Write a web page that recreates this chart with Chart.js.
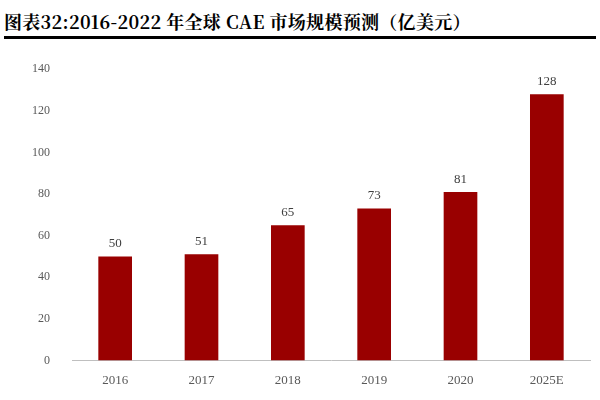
<!DOCTYPE html>
<html><head><meta charset="utf-8">
<script src="https://cdn.jsdelivr.net/npm/chart.js@4"></script>
<style>
body{margin:0;background:#fff;}
#t{position:absolute;left:4px;top:6px;width:592px;height:30px;border-bottom:3px solid #000;font-family:"Noto Serif CJK SC","Noto Sans CJK SC";font-weight:bold;font-size:18px;line-height:30px;color:#000;letter-spacing:0.3px}
#w{position:absolute;left:0;top:48px;width:600px;height:352px;}
</style></head><body>
<div id="t">图表32:2016-2022 年全球 CAE 市场规模预测（亿美元）</div>
<div id="w"><canvas id="c"></canvas></div>
<script>
const categories=["2016","2017","2018","2019","2020","2025E"];
const values=[50,51,65,73,81,128];
const yTicks=[0,20,40,60,80,100,120,140];
const labelPlugin={id:'lbl',afterDatasetsDraw(ch){const ctx=ch.ctx;const m=ch.getDatasetMeta(0);ctx.save();ctx.font='13px "Liberation Serif"';ctx.fillStyle='#404040';ctx.textAlign='center';ctx.textBaseline='bottom';m.data.forEach((b,i)=>ctx.fillText(values[i],b.x,b.y-6));ctx.restore();}};
new Chart(document.getElementById('c'),{type:'bar',data:{labels:categories,datasets:[{data:values,backgroundColor:'#990000',categoryPercentage:1,barPercentage:0.39}]},
options:{responsive:true,maintainAspectRatio:false,animation:false,layout:{padding:{left:18,right:10,top:9,bottom:8}},
plugins:{legend:{display:false},tooltip:{enabled:false}},
scales:{y:{min:0,max:140,afterBuildTicks(a){a.ticks=yTicks.map(v=>({value:v}));},grid:{display:false},border:{display:false},ticks:{color:'#595959',font:{family:'Liberation Serif',size:12},padding:14}},
x:{grid:{display:false},border:{color:'#bfbfbf'},ticks:{color:'#595959',font:{family:'Liberation Serif',size:13},padding:4}}}},plugins:[labelPlugin]});
</script></body></html>
